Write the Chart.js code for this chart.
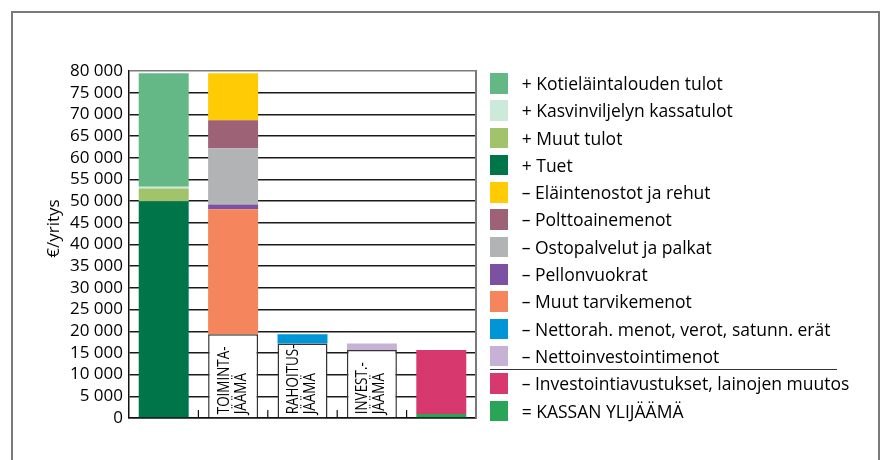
<!DOCTYPE html>
<html>
<head>
<meta charset="utf-8">
<script src="https://cdn.jsdelivr.net/npm/chart.js@4"></script>
<style>
html, body { margin: 0; padding: 0; background: #fff; }
#wrap { position: relative; width: 883px; height: 460px; overflow: hidden; font-family: 'Open Sans', sans-serif; }
#frame { position: absolute; left: 11px; top: 11px; width: 865px; height: 500px; border: 2px solid #7a7a7a; }
#chart { position: absolute; left: 0; top: 0; }
#legend { position: absolute; left: 490px; top: 73px; }
.item { height: 27.3px; display: flex; align-items: flex-start; }
.box { width: 18px; height: 20.5px; flex: none; }
.lbl { margin-left: 13.7px; font-size: 17.5px; line-height: 20.5px; color: #000; white-space: nowrap; }
.sep { height: 1px; background: #333; width: 347px; margin: -4px 0 3px 0; }
</style>
</head>
<body>
<div id="wrap">
  <div id="frame"></div>
  <canvas id="chart" width="883" height="460"></canvas>
  <div id="legend"></div>
</div>
<script>
// ===== DATA =====
const categories = ['', 'TOIMINTA-JÄÄMÄ', 'RAHOITUS-JÄÄMÄ', 'INVEST.-JÄÄMÄ', ''];
const boxLabels = [[], ['TOIMINTA-', 'JÄÄMÄ'], ['RAHOITUS-', 'JÄÄMÄ'], ['INVEST.-', 'JÄÄMÄ'], []];
const yTicks = [0, 5000, 10000, 15000, 20000, 25000, 30000, 35000, 40000, 45000, 50000, 55000, 60000, 65000, 70000, 75000, 80000];

// segment sizes, €/yritys
const residual       = [0, 19300, 17200, 15700, 0];
const tuet           = [50000, 0, 0, 0, 0];
const muutTulot      = [2900, 0, 0, 0, 0];
const kasvinviljely  = [400, 0, 0, 0, 0];
const kotielain      = [26200, 0, 0, 0, 0];
const muutTarvike    = [0, 28800, 0, 0, 0];
const pellonvuokrat  = [0, 1150, 0, 0, 0];
const ostopalvelut   = [0, 12950, 0, 0, 0];
const polttoaine     = [0, 6450, 0, 0, 0];
const elaintenostot  = [0, 10850, 0, 0, 0];
const nettorah       = [0, 0, 2100, 0, 0];
const nettoinvest    = [0, 0, 0, 1500, 0];
const kassanYlijaama = [0, 0, 0, 0, 900];
const investAvust    = [0, 0, 0, 0, 14800];

// stack order (bottom to top)
const series = [
    { key: 'residual', label: '', data: residual, color: '#ffffff' },
    { key: 'tuet', label: '+ Tuet', data: tuet, color: '#00754a' },
    { key: 'muut', label: '+ Muut tulot', data: muutTulot, color: '#a0c36b' },
    { key: 'kasvi', label: '+ Kasvinviljelyn kassatulot', data: kasvinviljely, color: '#cde9da' },
    { key: 'koti', label: '+ Kotieläintalouden tulot', data: kotielain, color: '#63b886' },
    { key: 'tarvike', label: '– Muut tarvikemenot', data: muutTarvike, color: '#f5855c' },
    { key: 'pelto', label: '– Pellonvuokrat', data: pellonvuokrat, color: '#7c51a1' },
    { key: 'osto', label: '– Ostopalvelut ja palkat', data: ostopalvelut, color: '#b1b3b4' },
    { key: 'poltto', label: '– Polttoainemenot', data: polttoaine, color: '#9e6277' },
    { key: 'elain', label: '– Eläintenostot ja rehut', data: elaintenostot, color: '#ffcb05' },
    { key: 'rah', label: '– Nettorah. menot, verot, satunn. erät', data: nettorah, color: '#0095d6' },
    { key: 'inv', label: '– Nettoinvestointimenot', data: nettoinvest, color: '#c7b2d6' },
    { key: 'kassa', label: '= KASSAN YLIJÄÄMÄ', data: kassanYlijaama, color: '#2aa457' },
    { key: 'avust', label: '– Investointiavustukset, lainojen muutos', data: investAvust, color: '#d7386d' }
];

const legendOrder = ['koti', 'kasvi', 'muut', 'tuet', 'elain', 'poltto', 'osto', 'pelto', 'tarvike', 'rah', 'inv', '|', 'avust', 'kassa'];

function fmt(v) {
    return String(v).replace(/\B(?=(\d{3})+(?!\d))/g, ' ');
}

// ===== EXTRA DRAWING =====
const extras = {
    id: 'extras',
    afterDatasetsDraw(chart) {
        const { ctx, chartArea: a, scales: { x } } = chart;
        ctx.save();

        // right frame of the plot
        ctx.strokeStyle = '#7a7a7a';
        ctx.lineWidth = 2;
        ctx.beginPath();
        ctx.moveTo(a.right, a.top - 1);
        ctx.lineTo(a.right, a.bottom);
        ctx.stroke();

        // small category ticks on the baseline
        ctx.strokeStyle = '#111';
        ctx.lineWidth = 1.2;
        for (let i = 0; i < categories.length - 1; i++) {
            const px = (x.getPixelForValue(i) + x.getPixelForValue(i + 1)) / 2;
            ctx.beginPath();
            ctx.moveTo(px, a.bottom);
            ctx.lineTo(px, a.bottom - 8);
            ctx.stroke();
        }

        // rotated labels inside the white boxes (slightly condensed)
        const meta = chart.getDatasetMeta(0);
        ctx.fillStyle = '#000';
        ctx.font = '16px "Open Sans"';
        ctx.textAlign = 'left';
        ctx.textBaseline = 'middle';
        boxLabels.forEach((lines, i) => {
            if (!lines.length) return;
            const el = meta.data[i];
            ctx.save();
            ctx.translate(el.x, el.base - 3);
            ctx.rotate(-Math.PI / 2);
            ctx.scale(0.84, 1);
            ctx.fillText(lines[0], 0, -9);
            ctx.fillText(lines[1], 0, 8);
            ctx.restore();
        });

        // y axis title
        ctx.save();
        ctx.translate(a.left - 75, (a.top + a.bottom) / 2 - 16);
        ctx.rotate(-Math.PI / 2);
        ctx.textAlign = 'center';
        ctx.textBaseline = 'middle';
        ctx.font = '17px "Open Sans"';
        ctx.fillText('€/yritys', 0, 0);
        ctx.restore();

        ctx.restore();
    }
};

// ===== CHART =====
const chart = new Chart(document.getElementById('chart'), {
    type: 'bar',
    data: {
        labels: categories,
        datasets: series.map((s, i) => ({
            label: s.label,
            data: s.data.map(v => v === 0 ? null : v),
            backgroundColor: s.color,
            borderColor: i === 0 ? '#333' : s.color,
            borderWidth: i === 0 ? 1.5 : 0,
            barPercentage: 0.72,
            categoryPercentage: 1
        }))
    },
    options: {
        responsive: false,
        animation: false,
        layout: { padding: { left: 0, top: 71, right: 407, bottom: 42 } },
        plugins: { legend: { display: false }, tooltip: { enabled: false } },
        scales: {
            x: {
                stacked: true,
                grid: { display: false },
                ticks: { display: false },
                border: { display: true, color: '#111', width: 1.5 },
                afterFit(scale) { scale.height = 0; }
            },
            y: {
                stacked: true,
                min: 0,
                max: 80000,
                afterBuildTicks(scale) { scale.ticks = yTicks.map(v => ({ value: v })); },
                ticks: {
                    autoSkip: false,
                    padding: 6,
                    color: '#000',
                    font: { family: 'Open Sans', size: 17 },
                    callback: v => fmt(v)
                },
                grid: {
                    drawTicks: false,
                    color: ctx => ctx.tick && ctx.tick.value === 80000 ? '#7a7a7a' : '#1a1a1a',
                    lineWidth: 1.5
                },
                border: { display: true, color: '#111', width: 1.5 },
                afterFit(scale) { scale.width = 129; }
            }
        }
    },
    plugins: [extras]
});

// ===== LEGEND =====
const legend = document.getElementById('legend');
legendOrder.forEach(key => {
    if (key === '|') {
        const sep = document.createElement('div');
        sep.className = 'sep';
        legend.appendChild(sep);
        return;
    }
    const s = series.find(d => d.key === key);
    const item = document.createElement('div');
    item.className = 'item';
    item.innerHTML = `<div class="box" style="background:${s.color}"></div><div class="lbl">${s.label}</div>`;
    legend.appendChild(item);
});
</script>
</body>
</html>
